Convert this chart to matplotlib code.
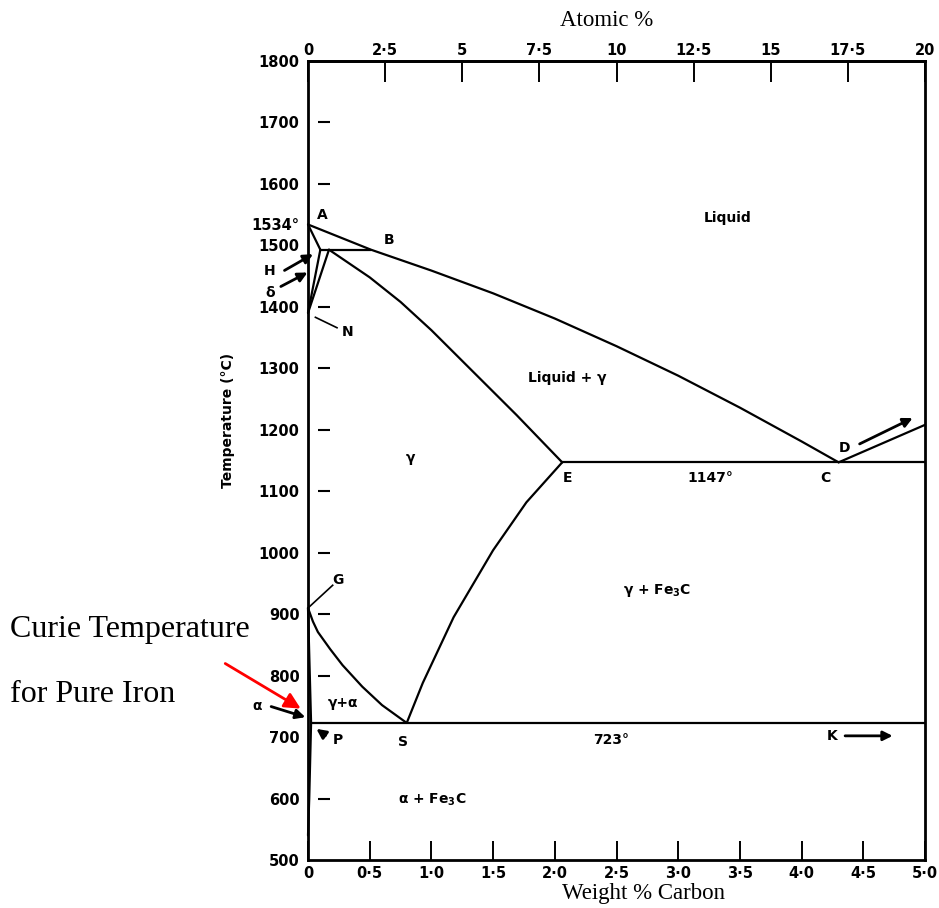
import matplotlib.pyplot as plt
import numpy as np

plt.rcParams['font.family'] = ['DejaVu Sans']
plt.rcParams['font.weight'] = 'bold'
plt.rcParams['mathtext.fontset'] = 'custom'
plt.rcParams['mathtext.rm'] = 'DejaVu Sans:bold'
plt.rcParams['mathtext.it'] = 'DejaVu Sans:bold:italic'
plt.rcParams['mathtext.default'] = 'rm'

# phase boundaries, weight % C vs temperature (deg C)
liquidus_wt = [0.0, 0.51, 1.0, 1.5, 2.0, 2.5, 3.0, 3.5, 4.0, 4.30]
liquidus_T = [1534, 1493, 1459, 1422, 1381, 1336, 1288, 1236, 1181, 1147]
cementite_liq_wt = [4.30, 5.0]
cementite_liq_T = [1147, 1208]
solidus_wt = [0.17, 0.5, 0.75, 1.0, 1.29, 1.5, 1.69, 2.06]
solidus_T = [1493, 1448, 1408, 1362, 1304, 1262, 1224, 1147]
delta_liq_wt = [0.0, 0.10]
delta_liq_T = [1534, 1493]
peritectic_wt = [0.10, 0.51]
peritectic_T = [1493, 1493]
delta_solvus_wt = [0.10, 0.0]
delta_solvus_T = [1493, 1390]
gamma_delta_wt = [0.17, 0.0]
gamma_delta_T = [1493, 1390]
eutectic_wt = [2.06, 5.0]
eutectic_T = [1147, 1147]
eutectoid_wt = [0.025, 5.0]
eutectoid_T = [723, 723]
acm_wt = [0.80, 0.93, 1.18, 1.50, 1.77, 2.06]
acm_T = [723, 788, 895, 1004, 1082, 1147]
a3_wt = [0.0, 0.04, 0.08, 0.18, 0.28, 0.44, 0.60, 0.80]
a3_T = [910, 888, 871, 843, 817, 782, 752, 723]
gp_wt = [0.0, 0.025]
gp_T = [910, 723]
solvus_wt = [0.025, 0.01, 0.0]
solvus_T = [723, 600, 540]

boundaries = [
    (liquidus_wt, liquidus_T), (cementite_liq_wt, cementite_liq_T),
    (solidus_wt, solidus_T), (delta_liq_wt, delta_liq_T),
    (peritectic_wt, peritectic_T), (delta_solvus_wt, delta_solvus_T),
    (gamma_delta_wt, gamma_delta_T), (eutectic_wt, eutectic_T),
    (eutectoid_wt, eutectoid_T), (acm_wt, acm_T), (a3_wt, a3_T),
    (gp_wt, gp_T), (solvus_wt, solvus_T),
]

# axis ticks
wt_ticks = np.arange(0, 5.01, 0.5)
wt_labels = ['0', '0·5', '1·0', '1·5', '2·0', '2·5', '3·0', '3·5', '4·0', '4·5', '5·0']
at_ticks = np.arange(0, 20.01, 2.5)
at_labels = ['0', '2·5', '5', '7·5', '10', '12·5', '15', '17·5', '20']
temp_ticks = [500, 600, 700, 800, 900, 1000, 1100, 1200, 1300, 1400, 1500, 1534,
              1600, 1700, 1800]
temp_labels = ['500', '600', '700', '800', '900', '1000', '1100', '1200', '1300',
               '1400', '1500', '1534°', '1600', '1700', '1800']
dash_temps = [600, 800, 900, 1000, 1100, 1200, 1300, 1400, 1600, 1700]

# region and point labels: (text, wt %, temperature)
region_labels = [
    ('Liquid', 3.40, 1545),
    ('Liquid + γ', 2.10, 1284),
    ('γ', 0.83, 1154),
    ('γ + Fe$_3$C', 2.83, 939),
    ('γ+α', 0.28, 755),
    ('α + Fe$_3$C', 1.01, 598),
    ('1147°', 3.26, 1122),
    ('723°', 2.46, 695),
]
point_labels = [
    ('A', 0.12, 1549), ('B', 0.66, 1509), ('H', -0.31, 1458), ('δ', -0.31, 1422),
    ('N', 0.32, 1359), ('G', 0.24, 956), ('E', 2.10, 1122), ('C', 4.19, 1122),
    ('D', 4.35, 1170), ('α', -0.41, 751), ('P', 0.24, 695), ('S', 0.77, 692),
    ('K', 4.25, 702),
]
# pointer arrows: (tail, head)
pointer_arrows = [
    ((-0.21, 1457), (0.06, 1488)),
    ((-0.24, 1431), (0.016, 1458)),
    ((-0.32, 751), (0.0, 731)),
    ((4.45, 1175), (4.92, 1221)),
    ((4.33, 702), (4.76, 702)),
    ((0.16, 700), (0.05, 716)),
]
leader_lines = [
    ((0.0, 910), (0.20, 947)),
    ((0.06, 1383), (0.235, 1366)),
]

fig = plt.figure(figsize=(9.39, 9.08), dpi=100)
ax = fig.add_axes([308 / 939, 1 - 860 / 908, 617 / 939, 799 / 908])
ax.set_xlim(0, 5)
ax.set_ylim(500, 1800)

for wt, T in boundaries:
    ax.plot(wt, T, color='black', lw=1.6, solid_capstyle='round',
            solid_joinstyle='round', clip_on=False)

for s in ax.spines.values():
    s.set_linewidth(2.0)

ax.set_xticks(wt_ticks)
ax.set_xticklabels(wt_labels, fontsize=10.5)
ax.tick_params(axis='x', direction='in', length=14, width=1.4, pad=4)
ax.set_yticks(temp_ticks)
ax.set_yticklabels(temp_labels, fontsize=10.5)
ax.tick_params(axis='y', length=0, pad=6)
ax.hlines(dash_temps, 0.08, 0.18, color='black', lw=1.5)

top = ax.secondary_xaxis('top', functions=(lambda w: w * 4, lambda a: a / 4))
top.set_xticks(at_ticks)
top.set_xticklabels(at_labels, fontsize=10.5)
top.tick_params(direction='in', length=15, width=1.4, pad=2)
top.spines['top'].set_linewidth(2.0)

for txt, x, y in region_labels + point_labels:
    ax.text(x, y, txt, ha='center', va='center', fontsize=10, clip_on=False)

for tail, head in pointer_arrows:
    ax.annotate('', xy=head, xytext=tail, annotation_clip=False,
                arrowprops=dict(arrowstyle='-|>', color='black', lw=2.0,
                                mutation_scale=14))
for p0, p1 in leader_lines:
    ax.plot([p0[0], p1[0]], [p0[1], p1[1]], color='black', lw=1.2, clip_on=False)

ax.set_ylabel('Temperature (°C)', fontsize=10, fontweight='bold', labelpad=10)
ax.yaxis.set_label_coords(-0.118, 0.55)

serif = ['Liberation Serif', 'DejaVu Serif']
fig.text(607 / 939, 1 - 20 / 908, 'Atomic %', family=serif, weight='normal',
         fontsize=16.5, ha='center', va='center')
fig.text(644 / 939, 1 - 893 / 908, 'Weight % Carbon', family=serif,
         weight='normal', fontsize=16.5, ha='center', va='center')
fig.text(10 / 939, 1 - 630 / 908, 'Curie Temperature', family=serif,
         weight='normal', fontsize=23, ha='left', va='center')
fig.text(10 / 939, 1 - 695 / 908, 'for Pure Iron', family=serif,
         weight='normal', fontsize=23, ha='left', va='center')

ax.annotate('', xy=(-0.04, 744), xytext=(-0.69, 822), annotation_clip=False,
            arrowprops=dict(arrowstyle='-|>', color='red', lw=2,
                            mutation_scale=24))

fig.savefig('out.png', dpi=100)
